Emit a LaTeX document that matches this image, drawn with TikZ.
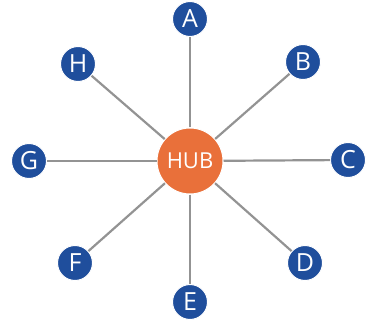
\documentclass[tikz,border=0pt]{standalone}
\usepackage{fontspec}
\setmainfont{Open Sans}
\usepackage{tikz}
\usetikzlibrary{positioning}
\definecolor{spokeblue}{HTML}{1F4E9C}
\definecolor{huborange}{HTML}{E9703A}
\definecolor{spokegray}{HTML}{939393}

\begin{document}
\begin{tikzpicture}[
    x=1pt, y=-1pt,
    spoke/.style={circle, draw=white, line width=1pt, fill=spokeblue, minimum size=35pt,
                  inner sep=0pt, text=white, font=\fontsize{25}{25}\selectfont},
    hub/.style={circle, draw=white, line width=1pt, fill=huborange, minimum size=66pt,
                inner sep=0pt, text=white, font=\fontsize{22}{22}\selectfont},
    link/.style={line width=2.2pt, spokegray},
]
    \useasboundingbox (0, 0) rectangle (366, 323);

    \node[hub] (hub) at (190, 161) {HUB};

    \node[spoke] (a) at (190, 19) {A};
    \node[spoke] (b) at (303, 62) {B};
    \node[spoke] (c) at (348, 160) {C};
    \node[spoke] (d) at (305, 263) {D};
    \node[spoke] (e) at (190, 302) {E};
    \node[spoke] (f) at (75, 263) {F};
    \node[spoke] (g) at (29, 161) {G};
    \node[spoke] (h) at (78, 64) {H};

    % spokes from the hub out to each letter
    \foreach \n in {a, b, c, d, e, f, g, h}
        \draw[link] (hub) -- (\n);
\end{tikzpicture}
\end{document}
